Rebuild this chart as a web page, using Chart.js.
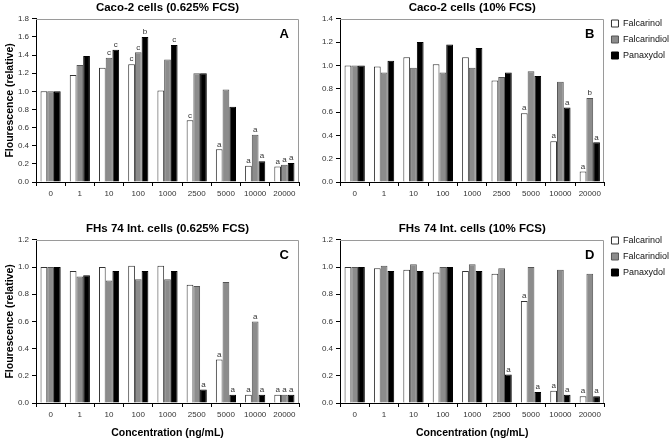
<!DOCTYPE html>
<html>
<head>
<meta charset="utf-8">
<script src="https://cdn.jsdelivr.net/npm/chart.js@4.4.1/dist/chart.umd.min.js"></script>
<style>
html,body{margin:0;padding:0;background:#fff;width:672px;height:439px;overflow:hidden;position:relative}
canvas{position:absolute}
</style>
</head>
<body>
<canvas id="cA" width="324" height="215" style="left:0;top:0"></canvas>
<canvas id="cB" width="369" height="215" style="left:310px;top:0"></canvas>
<canvas id="cC" width="324" height="218" style="left:0;top:221px"></canvas>
<canvas id="cD" width="369" height="218" style="left:310px;top:221px"></canvas>
<script>
// ---------- data ----------
const concentrations = ['0','1','10','100','1000','2500','5000','10000','20000'];
const seriesNames = ['Falcarinol','Falcarindiol','Panaxydol'];

// Panel A: Caco-2 cells (0.625% FCS)
const caco625Falcarinol   = [1.00,1.18,1.26,1.30,1.01,0.68,0.36,0.18,0.17];
const caco625Falcarindiol = [1.00,1.29,1.37,1.43,1.35,1.20,1.02,0.52,0.19];
const caco625Panaxydol    = [1.00,1.39,1.46,1.60,1.51,1.20,0.83,0.23,0.21];
const caco625FalcarinolSig   = ['','','','c','','c','a','a','a'];
const caco625FalcarindiolSig = ['','','c','c','','','','a','a'];
const caco625PanaxydolSig    = ['','','c','b','c','','','a','a'];

// Panel B: Caco-2 cells (10% FCS)
const caco10Falcarinol   = [1.00,0.99,1.07,1.01,1.07,0.87,0.59,0.35,0.09];
const caco10Falcarindiol = [1.00,0.94,0.98,0.94,0.98,0.90,0.95,0.86,0.72];
const caco10Panaxydol    = [1.00,1.04,1.20,1.18,1.15,0.94,0.91,0.64,0.34];
const caco10FalcarinolSig   = ['','','','','','','a','a','a'];
const caco10FalcarindiolSig = ['','','','','','','','','b'];
const caco10PanaxydolSig    = ['','','','','','','','a','a'];

// Panel C: FHs 74 Int. cells (0.625% FCS)
const fhs625Falcarinol   = [1.00,0.97,1.00,1.01,1.01,0.87,0.32,0.06,0.06];
const fhs625Falcarindiol = [1.00,0.93,0.90,0.91,0.91,0.86,0.89,0.60,0.06];
const fhs625Panaxydol    = [1.00,0.94,0.97,0.97,0.97,0.10,0.06,0.06,0.06];
const fhs625FalcarinolSig   = ['','','','','','','a','a','a'];
const fhs625FalcarindiolSig = ['','','','','','','','a','a'];
const fhs625PanaxydolSig    = ['','','','','','a','a','a','a'];

// Panel D: FHs 74 Int. cells (10% FCS)
const fhs10Falcarinol   = [1.00,0.99,0.98,0.96,0.97,0.95,0.75,0.09,0.05];
const fhs10Falcarindiol = [1.00,1.01,1.02,1.00,1.02,0.99,1.00,0.98,0.95];
const fhs10Panaxydol    = [1.00,0.97,0.97,1.00,0.97,0.21,0.08,0.06,0.05];
const fhs10FalcarinolSig   = ['','','','','','','a','a','a'];
const fhs10FalcarindiolSig = ['','','','','','','','',''];
const fhs10PanaxydolSig    = ['','','','','','a','a','a','a'];

// ---------- styling ----------
const FONT = 'Arial, "Liberation Sans", Helvetica, sans-serif';
Chart.defaults.font.family = FONT;
Chart.defaults.color = '#222';
Chart.defaults.animation = false;

const fills   = ['#ffffff','#8c8c8c','#000000'];
const borders = ['#333333','#555555','#000000'];

const framePlugin = {
  id:'frame',
  afterDraw(chart){
    const {ctx, chartArea:{left,top,right,bottom}} = chart;
    ctx.save();
    ctx.strokeStyle = '#9a9a9a';
    ctx.lineWidth = 1;
    ctx.beginPath();
    ctx.moveTo(left, Math.round(top)+0.5);
    ctx.lineTo(Math.round(right)-0.5, Math.round(top)+0.5);
    ctx.lineTo(Math.round(right)-0.5, bottom);
    ctx.stroke();
    ctx.restore();
  }
};

const sigPlugin = {
  id:'sigLetters',
  afterDatasetsDraw(chart, args, opts){
    const letters = opts.letters || [];
    const {ctx} = chart;
    ctx.save();
    ctx.font = '8px ' + FONT;
    ctx.fillStyle = '#333';
    ctx.textAlign = 'center';
    ctx.textBaseline = 'bottom';
    letters.forEach((arr, di) => {
      const meta = chart.getDatasetMeta(di);
      arr.forEach((t, j) => {
        if (!t) return;
        const el = meta.data[j];
        ctx.fillText(t, el.x, el.y - 1);
      });
    });
    ctx.restore();
  }
};

const panelLetterPlugin = {
  id:'panelLetter',
  afterDraw(chart, args, opts){
    if (!opts.text) return;
    const {ctx, chartArea:{top,right}} = chart;
    ctx.save();
    ctx.font = 'bold 13px ' + FONT;
    ctx.fillStyle = '#000';
    ctx.textAlign = 'right';
    ctx.textBaseline = 'middle';
    ctx.fillText(opts.text, right - 10, top + 16);
    ctx.restore();
  }
};

const legendShiftPlugin = {
  id:'legendShift',
  afterLayout(chart, args, opts){
    if (chart.legend && opts.top != null && chart.options.plugins.legend.display) {
      const h = chart.legend.height;
      chart.legend.top = opts.top;
      chart.legend.bottom = opts.top + h;
    }
  }
};

function makePanel(id, title, seriesValues, seriesLetters, yMax, letter, g) {
  const datasets = seriesNames.map((name, i) => ({
    label: name,
    data: seriesValues[i],
    backgroundColor: fills[i],
    borderColor: borders[i],
    borderWidth: 1,
    categoryPercentage: 0.69,
    barPercentage: 1.0
  }));
  return new Chart(document.getElementById(id), {
    type: 'bar',
    data: { labels: concentrations, datasets },
    options: {
      responsive: false,
      animation: false,
      layout: { padding: { left: 0, right: g.padRight, top: 0, bottom: 0 } },
      plugins: {
        title: {
          display: true, text: title, color: '#000',
          font: { size: 11.5, weight: 'bold' },
          padding: { top: 1, bottom: 4 },
          fullSize: false
        },
        legend: {
          display: g.legend, position: 'right', align: 'start', fullSize: false,
          labels: { boxWidth: 7, boxHeight: 7, padding: 7, color: '#111', font: { size: 9 } }
        },
        tooltip: { enabled: false },
        sigLetters: { letters: seriesLetters },
        panelLetter: { text: letter },
        legendShift: { top: g.legendTop }
      },
      scales: {
        x: {
          grid: { display: true, drawOnChartArea: false, drawTicks: true, tickLength: 4, color: '#000', offset: true },
          border: { display: true, color: '#000', width: 1 },
          ticks: { font: { size: 8 }, color: '#333', padding: 3, maxRotation: 0, autoSkip: false },
          title: { display: g.xTitle, text: 'Concentration (ng/mL)', color: '#000',
                   font: { size: 10.5, weight: 'bold' }, padding: { top: 0, bottom: 0 } },
          afterFit(s) { s.height = g.xHeight; }
        },
        y: {
          min: 0, max: yMax,
          grid: { display: true, drawOnChartArea: false, drawTicks: true, tickLength: 4, color: '#000' },
          border: { display: true, color: '#000', width: 1 },
          ticks: { stepSize: 0.2, font: { size: 8 }, color: '#333', padding: 3,
                   callback: v => Number(v).toFixed(1) },
          title: { display: g.yTitle, text: 'Flourescence (relative)', color: '#000',
                   font: { size: 10.5, weight: 'bold' }, padding: { top: 4, bottom: 0 } },
          afterFit(s) { s.width = g.yWidth; }
        }
      }
    },
    plugins: [framePlugin, sigPlugin, panelLetterPlugin, legendShiftPlugin]
  });
}

makePanel('cA', 'Caco-2 cells (0.625% FCS)',
  [caco625Falcarinol, caco625Falcarindiol, caco625Panaxydol],
  [caco625FalcarinolSig, caco625FalcarindiolSig, caco625PanaxydolSig],
  1.8, 'A',
  { padRight: 25, legend: false, xTitle: false, yTitle: true, xHeight: 33, yWidth: 36, legendTop: null });

makePanel('cB', 'Caco-2 cells (10% FCS)',
  [caco10Falcarinol, caco10Falcarindiol, caco10Panaxydol],
  [caco10FalcarinolSig, caco10FalcarindiolSig, caco10PanaxydolSig],
  1.4, 'B',
  { padRight: 0, legend: true, xTitle: false, yTitle: false, xHeight: 33, yWidth: 30, legendTop: 12 });

makePanel('cC', 'FHs 74 Int. cells (0.625% FCS)',
  [fhs625Falcarinol, fhs625Falcarindiol, fhs625Panaxydol],
  [fhs625FalcarinolSig, fhs625FalcarindiolSig, fhs625PanaxydolSig],
  1.2, 'C',
  { padRight: 25, legend: false, xTitle: true, yTitle: true, xHeight: 36, yWidth: 36, legendTop: null });

makePanel('cD', 'FHs 74 Int. cells (10% FCS)',
  [fhs10Falcarinol, fhs10Falcarindiol, fhs10Panaxydol],
  [fhs10FalcarinolSig, fhs10FalcarindiolSig, fhs10PanaxydolSig],
  1.2, 'D',
  { padRight: 0, legend: true, xTitle: true, yTitle: false, xHeight: 36, yWidth: 30, legendTop: 8 });
</script>
</body>
</html>
